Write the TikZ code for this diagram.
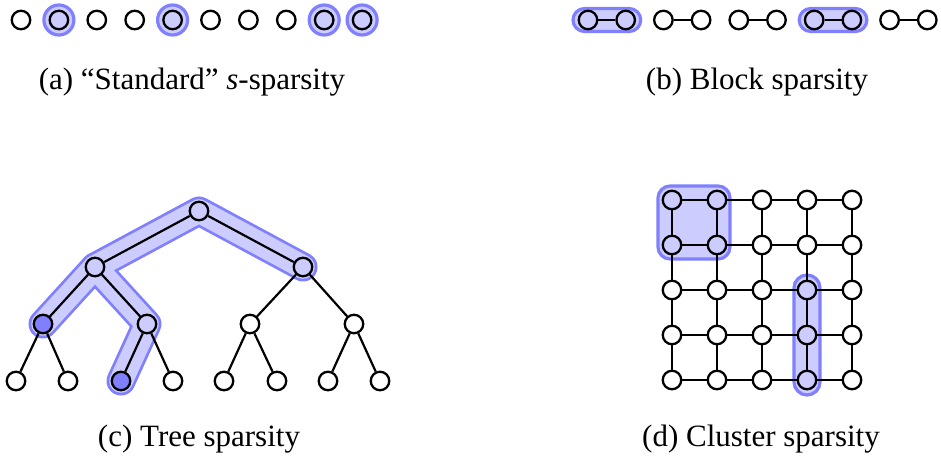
\documentclass[tikz,border=0pt]{standalone}
\usepackage{fontspec}
\setmainfont{Liberation Serif}
\usetikzlibrary{calc}

\tikzset{
  vtx/.style={circle, draw=black, line width=2.3pt, minimum size=18.5pt, inner sep=0pt},
  darkvtx/.style={vtx, fill=hlborder},
  edge/.style={line width=2.2pt, black},
  ring/.style={circle, draw=hlborder, fill=hlfill, line width=3.2pt, minimum size=30pt, inner sep=0pt},
  hlbox/.style={draw=hlborder, fill=hlfill, line width=3.2pt},
  bandout/.style={line width=29pt, hlborder, line cap=round, line join=round},
  bandin/.style={line width=23.5pt, hlfill, line cap=round, line join=round},
  caption/.style={anchor=base, inner sep=0pt, font=\fontsize{31}{37}\selectfont},
}
\colorlet{hlfill}{blue!20}
\colorlet{hlborder}{blue!50}

\begin{document}
\begin{tikzpicture}[x=1pt, y=-1pt]
\useasboundingbox (0,0) rectangle (941,455);

% ---------- (a) standard sparsity ----------
\foreach \i in {0,...,9} {
  \coordinate (a\i) at ({21+37.9*\i}, 20);
}
\foreach \i in {1,4,8,9} {
  \node[ring] (ra\i) at (a\i) {};
}
\foreach \i in {0,...,9} {
  \node[vtx] (na\i) at (a\i) {};
}
\node[caption] (capa) at (192, 89) {(a) “Standard” \textit{s}-sparsity};

% ---------- (b) block sparsity ----------
\foreach \i in {0,...,9} {
  \coordinate (b\i) at ({588+37.7*\i}, 20);
}
\foreach \i/\j in {0/1, 6/7} {
  \draw[hlbox, rounded corners=11.5pt] ($(b\i)+(-15,-11.5)$) rectangle ($(b\j)+(15,11.5)$);
}
\foreach \i in {0,...,9} {
  \node[vtx] (nb\i) at (b\i) {};
}
\foreach \i/\j in {0/1, 2/3, 4/5, 6/7, 8/9} {
  \draw[edge] (nb\i) -- (nb\j);
}
\node[caption] (capb) at (757, 89) {(b) Block sparsity};

% ---------- (c) tree sparsity ----------
\coordinate (t1) at (199, 211);
\coordinate (t2) at (95, 267);
\coordinate (t3) at (303, 267);
\coordinate (t4) at (43, 324);
\coordinate (t5) at (147, 324);
\coordinate (t6) at (250, 324);
\coordinate (t7) at (354, 324);
\coordinate (t8) at (16, 381);
\coordinate (t9) at (68, 381);
\coordinate (t10) at (121, 381);
\coordinate (t11) at (173, 381);
\coordinate (t12) at (224, 381);
\coordinate (t13) at (277, 381);
\coordinate (t14) at (328, 381);
\coordinate (t15) at (380, 381);

% highlighted subtree: outer rim first, then the light core
\draw[bandout] (t4) -- (t2) -- (t1) -- (t3);
\draw[bandout] (t2) -- (t5) -- (t10);
\draw[bandin] (t4) -- (t2) -- (t1) -- (t3);
\draw[bandin] (t2) -- (t5) -- (t10);

\foreach \i in {1,2,3,5,6,7,8,9,11,12,13,14,15} {
  \node[vtx] (nt\i) at (t\i) {};
}
\node[darkvtx] (nt4) at (t4) {};
\node[darkvtx] (nt10) at (t10) {};

\foreach \p/\c in {1/2, 1/3, 2/4, 2/5, 3/6, 3/7, 4/8, 4/9, 5/10, 5/11, 6/12, 6/13, 7/14, 7/15} {
  \draw[edge] (nt\p) -- (nt\c);
}
\node[caption] (capc) at (199, 446) {(c) Tree sparsity};

% ---------- (d) cluster sparsity ----------
\foreach \i in {0,...,4} {
  \foreach \j in {0,...,4} {
    \coordinate (g\i-\j) at ({672+45*\i}, {200+45*\j});
  }
}
\draw[hlbox, rounded corners=12pt] ($(g0-0)+(-14,-14)$) rectangle ($(g1-1)+(13,14)$);
\draw[hlbox, rounded corners=13pt] ($(g3-2)+(-13,-15)$) rectangle ($(g3-4)+(13,15)$);

\foreach \i in {0,...,4} {
  \foreach \j in {0,...,4} {
    \node[vtx] (ng\i-\j) at (g\i-\j) {};
  }
}
\foreach \i in {0,...,4} {
  \foreach \j [evaluate=\j as \k using int(\j+1)] in {0,...,3} {
    \draw[edge] (ng\i-\j) -- (ng\i-\k);
    \draw[edge] (ng\j-\i) -- (ng\k-\i);
  }
}
\node[caption] (capd) at (761, 446) {(d) Cluster sparsity};

\end{tikzpicture}
\end{document}
